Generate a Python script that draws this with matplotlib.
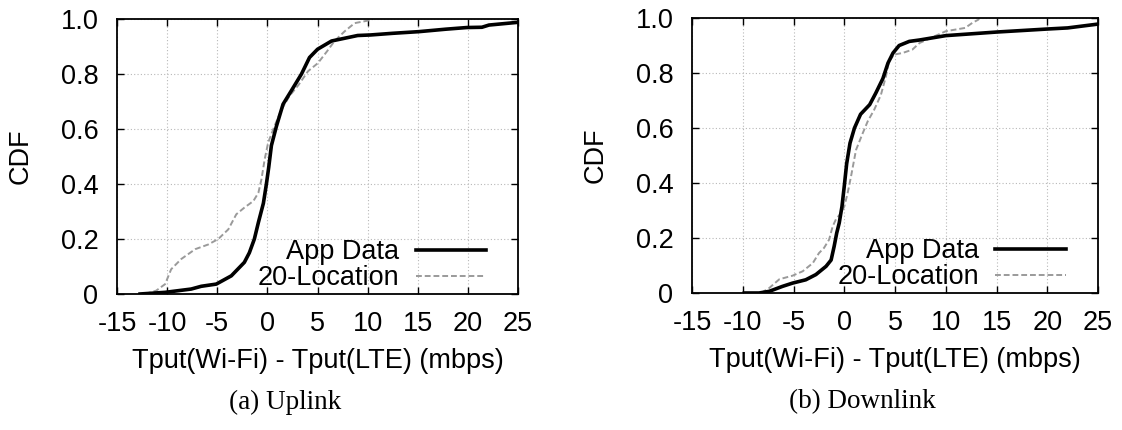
import matplotlib
matplotlib.use('Agg')
from matplotlib import pyplot as plt

# uplink: throughput difference (mbps) vs CDF
up_app_x = [-12.7, -10.2, -7.6, -6.6, -5.1, -3.6, -2.3, -1.8, -1.3, -0.9, -0.4, -0.1, 0.13, 0.4,
            0.9, 1.56, 2.4, 3.4, 4.2, 5.0, 6.4, 7.7, 9.0, 10.3, 12.5, 15.1, 17.8, 19.9, 21.4, 22.1, 25.0]
up_app_y = [0.0, 0.006, 0.018, 0.028, 0.036, 0.066, 0.115, 0.15, 0.2, 0.26, 0.33, 0.40, 0.46, 0.54,
            0.61, 0.69, 0.74, 0.80, 0.86, 0.89, 0.92, 0.93, 0.94, 0.942, 0.948, 0.954, 0.963, 0.969, 0.97, 0.978, 0.988]

up_loc_x = [-12.2, -11.1, -10.2, -9.6, -8.6, -7.2, -5.9, -4.9, -3.9, -3.1, -2.3, -1.4, -0.9, -0.6,
            -0.27, 0.07, 0.7, 1.4, 2.2, 3.1, 4.05, 5.05, 6.0, 6.7, 7.7, 8.7, 10.0, 10.5]
up_loc_y = [0.0, 0.012, 0.036, 0.09, 0.127, 0.163, 0.18, 0.20, 0.235, 0.29, 0.314, 0.338, 0.368, 0.416,
            0.49, 0.55, 0.61, 0.67, 0.72, 0.76, 0.81, 0.84, 0.885, 0.92, 0.955, 0.985, 0.994, 1.0]

# downlink
dn_app_x = [-9.85, -8.4, -7.4, -6.1, -5.1, -3.8, -2.8, -1.8, -1.3, -1.0, -0.75, -0.5, -0.23, 0.0,
            0.23, 0.56, 1.0, 1.6, 2.5, 3.1, 3.8, 4.3, 4.8, 5.4, 6.4, 7.4, 10.0, 15.0, 20.0, 22.0, 25.0]
dn_app_y = [0.0, 0.0, 0.006, 0.024, 0.036, 0.048, 0.067, 0.097, 0.12, 0.17, 0.218, 0.255, 0.315, 0.39,
            0.47, 0.545, 0.60, 0.65, 0.685, 0.727, 0.78, 0.836, 0.873, 0.90, 0.915, 0.92, 0.936, 0.949, 0.96, 0.964, 0.978]

dn_loc_x = [-8.2, -7.4, -6.4, -5.1, -4.1, -3.1, -2.5, -2.0, -1.5, -1.15, -0.8, -0.33, 0.0, 0.33,
            0.66, 1.15, 1.8, 2.3, 2.95, 3.6, 4.1, 4.4, 4.9, 5.75, 6.7, 7.4, 10.0, 11.9, 12.6, 13.2, 13.3]
dn_loc_y = [0.0, 0.018, 0.05, 0.063, 0.079, 0.109, 0.145, 0.164, 0.194, 0.242, 0.27, 0.29, 0.315, 0.364,
            0.424, 0.52, 0.58, 0.624, 0.667, 0.72, 0.788, 0.842, 0.867, 0.873, 0.885, 0.909, 0.952, 0.964, 0.982, 0.994, 1.0]

x_ticks = [-15, -10, -5, 0, 5, 10, 15, 20, 25]
y_ticks = [0, 0.2, 0.4, 0.6, 0.8, 1.0]
y_tick_labels = ['0', '0.2', '0.4', '0.6', '0.8', '1.0']
xlabel = 'Tput(Wi-Fi) - Tput(LTE) (mbps)'
captions = ['(a) Uplink', '(b) Downlink']

plt.rcParams['font.family'] = ['Liberation Sans', 'DejaVu Sans']

fig = plt.figure(figsize=(11.22, 4.30), dpi=100)
ax_up = fig.add_axes([0.1043, 0.3163, 0.3574, 0.6395])
ax_dn = fig.add_axes([0.6168, 0.3186, 0.3619, 0.6395])


def draw_cdf(ax, app_x, app_y, loc_x, loc_y):
    ax.plot(app_x, app_y, color='black', linewidth=2.6, label='App Data', zorder=3)
    ax.plot(loc_x, loc_y, color='#9a9a9a', linewidth=1.4, dashes=(3, 1.5), label='20-Location', zorder=2)
    ax.set_xlim(-15, 25)
    ax.set_ylim(0, 1.0)
    ax.set_xticks(x_ticks)
    ax.set_xticklabels([str(t) for t in x_ticks])
    ax.set_yticks(y_ticks)
    ax.set_yticklabels(y_tick_labels)
    ax.grid(True, color='#b8b8b8', linestyle=(0, (1, 2)), linewidth=0.8)
    ax.tick_params(direction='in', length=5, width=1, top=True, right=True, labelsize=19.5)
    ax.tick_params(axis='y', pad=13.5)
    ax.tick_params(axis='x', pad=12)
    for s in ax.spines.values():
        s.set_linewidth(1.3)
    ax.set_xlabel(xlabel, fontsize=19.5, labelpad=8)
    ax.set_ylabel('CDF', fontsize=19.5, labelpad=19)
    ax.legend(loc='lower right', bbox_to_anchor=(0.92, 0.01), markerfirst=False, frameon=False,
              handlelength=2.6, handletextpad=0.6, labelspacing=0.0, borderpad=0, borderaxespad=0,
              fontsize=19.5)


draw_cdf(ax_up, up_app_x, up_app_y, up_loc_x, up_loc_y)
draw_cdf(ax_dn, dn_app_x, dn_app_y, dn_loc_x, dn_loc_y)

fig.text(285 / 1122, 1 - 402 / 430, captions[0], ha='center', va='center', fontsize=19.5, family='Liberation Serif')
fig.text(862 / 1122, 1 - 402 / 430, captions[1], ha='center', va='center', fontsize=19.5, family='Liberation Serif')

fig.savefig('out.png', dpi=100)
